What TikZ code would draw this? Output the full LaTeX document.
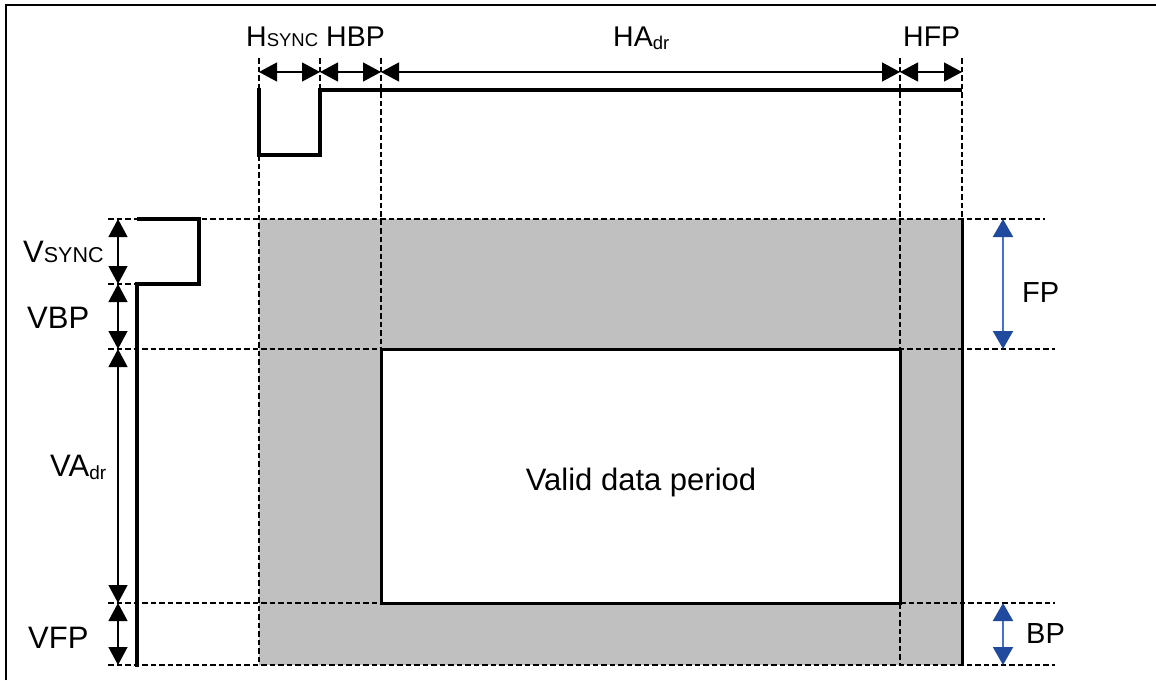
\documentclass[tikz,border=0pt]{standalone}
\usepackage{fontspec}
\setmainfont{Liberation Sans}
\usetikzlibrary{arrows.meta}
\definecolor{greyfill}{HTML}{C0C0C0}
\definecolor{bluehead}{HTML}{1F4A9E}
\definecolor{blueshaft}{HTML}{4472C4}
\newcommand{\bigtxt}{\fontsize{31}{34}\selectfont}
\newcommand{\toptxt}{\fontsize{28.5}{31}\selectfont}
\newcommand{\subtxt}{\fontsize{18.5}{20}\selectfont}
\begin{document}
\begin{tikzpicture}[x=1pt,y=-1pt,
  guide/.style={line width=2.2pt,dash pattern=on 5.5pt off 3pt,black},
  signal/.style={line width=4.8pt,line join=miter},
  edge/.style={line width=3pt},
  dim/.style={line width=1.2pt,{Triangle[length=18pt,width=19pt]}-{Triangle[length=18pt,width=19pt]}},
  bdim/.style={line width=2pt,blueshaft,{Triangle[length=18pt,width=20pt,color=bluehead]}-{Triangle[length=18pt,width=20pt,color=bluehead]}},
  lbl/.style={inner sep=0pt,anchor=base west,font=\bigtxt}]
\useasboundingbox (0,0) rectangle (1156,680);
% frame
\draw[line width=2.5pt] (6,680) -- (6,5) -- (1156,5);
% shaded areas
\fill[greyfill] (259,219) rectangle (962,665);
\fill[white] (381,349) rectangle (900,603);
\draw[edge] (381,603) -- (381,349) -- (900,349) -- (900,603) -- cycle;
\draw[edge] (962,219) -- (962,665);
% vertical guides
\draw[guide] (259,58) -- (259,90);
\draw[guide] (259,155) -- (259,665);
\draw[guide] (320,58) -- (320,90);
\draw[guide] (381,58) -- (381,349);
\draw[guide] (900,58) -- (900,349);
\draw[guide] (900,603) -- (900,665);
\draw[guide] (962,58) -- (962,219);
% horizontal guides
\draw[guide] (108,219) -- (1045,219);
\draw[guide] (108,284) -- (137,284);
\draw[guide] (108,349) -- (1055,349);
\draw[guide] (108,603) -- (381,603);
\draw[guide] (900,603) -- (1055,603);
\draw[guide] (108,665) -- (1055,665);
% sync signals
\draw[signal] (259,88) -- (259,155) -- (320,155) -- (320,90) -- (962,90);
\draw[signal] (137,219) -- (199,219) -- (199,284) -- (137,284) -- (137,667);
% horizontal dimension arrows
\coordinate (ta) at (259,72); \coordinate (tb) at (320,72); \coordinate (tc) at (381,72);
\coordinate (td) at (900,72); \coordinate (te) at (962,72);
\draw[dim] (ta) -- (tb);
\draw[dim] (tb) -- (tc);
\draw[dim] (tc) -- (td);
\draw[dim] (td) -- (te);
% vertical dimension arrows
\coordinate (la) at (118,219); \coordinate (lb) at (118,284); \coordinate (lc) at (118,349);
\coordinate (ld) at (118,603); \coordinate (le) at (118,665);
\draw[dim] (la) -- (lb);
\draw[dim] (lb) -- (lc);
\draw[dim] (lc) -- (ld);
\draw[dim] (ld) -- (le);
% blue arrows
\coordinate (ra) at (1003,219); \coordinate (rb) at (1003,349);
\coordinate (rc) at (1003,603); \coordinate (rd) at (1003,665);
\draw[bdim] (ra) -- (rb);
\draw[bdim] (rc) -- (rd);
% labels
\node[lbl,font=\toptxt] (hs) at (246,46) {H{\subtxt SYNC}};
\node[lbl,font=\toptxt] (hbp) at (326,46) {HBP};
\node[lbl,font=\toptxt] (ha) at (613,46) {HA\raisebox{-3pt}{\subtxt dr}};
\node[lbl,font=\toptxt] (hfp) at (903,46) {HFP};
\node[lbl] (vs) at (23,262) {V{\fontsize{21.5}{23}\selectfont SYNC}};
\node[lbl] (vbp) at (27,328) {VBP};
\node[lbl] (va) at (50,476) {VA\raisebox{-3pt}{\fontsize{19}{21}\selectfont dr}};
\node[lbl] (vfp) at (28,648) {VFP};
\node[lbl,anchor=base] (valid) at (641,490) {Valid data period};
\node[lbl,font=\fontsize{29}{32}\selectfont] (fp) at (1022,302) {FP};
\node[lbl,font=\fontsize{29}{32}\selectfont] (bp) at (1026,643) {BP};
\end{tikzpicture}
\end{document}
